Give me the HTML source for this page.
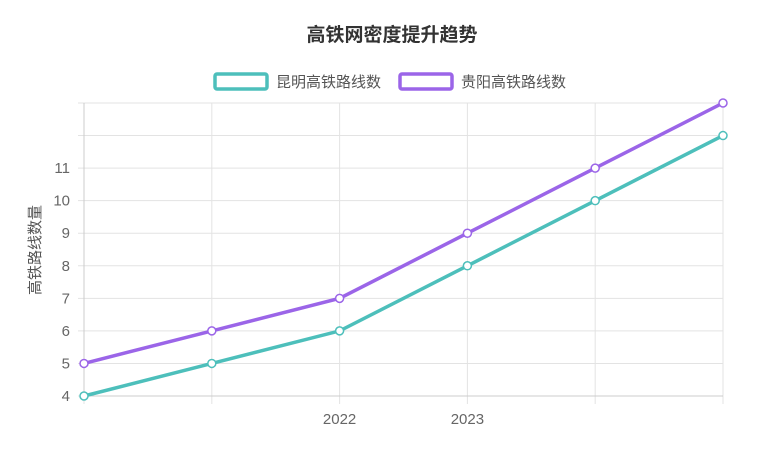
<!DOCTYPE html>
<html><head><meta charset="utf-8"><style>
body{margin:0;background:#fff;font-family:"Liberation Sans","Noto Sans CJK SC",sans-serif;}
</style></head><body>
<svg width="780" height="457" xmlns="http://www.w3.org/2000/svg" style="font-family:'Liberation Sans','Noto Sans CJK SC',sans-serif">
<text x="392" y="41" text-anchor="middle" font-size="19" font-weight="bold" fill="#333">高铁网密度提升趋势</text>
<g>
<rect x="215" y="74" width="52" height="15" rx="2" fill="none" stroke="#4dbfbb" stroke-width="3.5"/>
<text x="276" y="87" font-size="15" fill="#555">昆明高铁路线数</text></g>
<g>
<rect x="400" y="74" width="52" height="15" rx="2" fill="none" stroke="#9b65e8" stroke-width="3.5"/>
<text x="461" y="87" font-size="15" fill="#555">贵阳高铁路线数</text></g>
<text transform="translate(40,250) rotate(-90)" text-anchor="middle" font-size="15" fill="#555">高铁路线数量</text>
<g id="grid"></g><g id="series"></g>
</svg>
<script>
const categories=["2020","2021","2022","2023","2024","2025"];
const kunming=[4,5,6,8,10,12];
const guiyang=[5,6,7,9,11,13];
const yTicks=[4,5,6,7,8,9,10,11,12,13];
const hiddenX=["2020","2021","2024","2025"];
const hiddenY=[12,13];
const L=84,R=723,T=103,B=396,ymin=4,ymax=13;
const NS="http://www.w3.org/2000/svg";
const xs=i=>L+(R-L)*i/(categories.length-1);
const ys=v=>B-(B-T)*(v-ymin)/(ymax-ymin);
const g=document.getElementById('grid'),s=document.getElementById('series');
function mk(tag,a,p){const e=document.createElementNS(NS,tag);for(const k in a)e.setAttribute(k,a[k]);p.appendChild(e);return e;}
yTicks.forEach(v=>{const y=ys(v);
 const l=mk('line',{x1:L-6,x2:R,y1:y,y2:y,stroke:'#e3e3e3'},g);
 
 
 const t=mk('text',{x:L-14,y:y+5,'text-anchor':'end','font-size':'15',fill:hiddenY.includes(v)?'#fff':'#666'},g);
 t.textContent=v;
 
 });
categories.forEach((c,i)=>{const x=xs(i);
 const l=mk('line',{x1:x,x2:x,y1:T,y2:B+8,stroke:'#e3e3e3'},g);
 
 
 const t=mk('text',{x:x,y:424,'text-anchor':'middle','font-size':'15',fill:hiddenX.includes(c)?'#fff':'#666'},g);
 t.textContent=c;
 
 });
const ax=mk('line',{x1:L,x2:R,y1:B,y2:B,stroke:'#ccc'},g);


const ay=mk('line',{x1:L,x2:L,y1:T,y2:B,stroke:'#ccc'},g);


[[kunming,'#4dbfbb','kunming'],[guiyang,'#9b65e8','guiyang']].forEach(([d,c,n])=>{
 const p=mk('polyline',{points:d.map((v,i)=>xs(i)+','+ys(v)).join(' '),fill:'none',stroke:c,'stroke-width':'3.5'},s);
 
 
 d.forEach((v,i)=>{const q=mk('circle',{cx:xs(i),cy:ys(v),r:4,fill:'#fff',stroke:c,'stroke-width':'1.5'},s);
  
  });});
</script>
</body></html>
